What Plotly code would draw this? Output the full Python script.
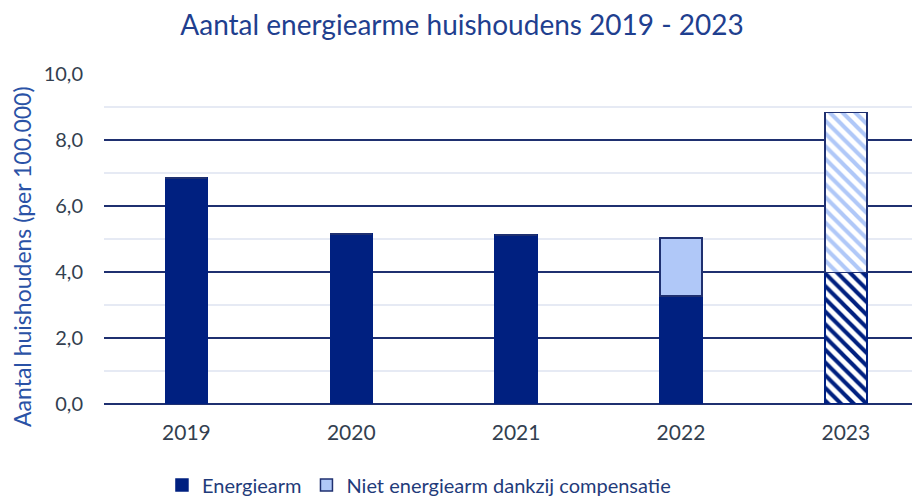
import plotly.graph_objects as go

years = ["2019", "2020", "2021", "2022", "2023"]
energiearm = [6.85, 5.15, 5.12, 3.27, 3.98]
niet_energiearm = [0, 0, 0, 1.76, 4.86]
hatched = [False, False, False, False, True]
y_ticks = [0, 2, 4, 6, 8, 10]

DARK = "#002080"
LIGHT = "#b0c8f8"
LINE = "#1f3070"
BW = 0.255


def pick(values, flag):
    xs = [y for y, h in zip(years, hatched) if h == flag]
    vs = [v for v, h in zip(values, hatched) if h == flag]
    return xs, vs


fig = go.Figure()
x0, v0 = pick(energiearm, False)
fig.add_trace(go.Bar(name="Energiearm", x=x0, y=v0, width=BW, legendgroup="a",
                     marker=dict(color=DARK, line=dict(color=DARK, width=1.5))))
x1, v1 = pick(energiearm, True)
fig.add_trace(go.Bar(name="Energiearm", x=x1, y=v1, width=BW, legendgroup="a", showlegend=False,
                     marker=dict(color=DARK, line=dict(color=DARK, width=1.5),
                                 pattern=dict(shape="\\", fgcolor=DARK, bgcolor="white",
                                              size=9, solidity=0.45, fillmode="replace"))))
x2, v2 = pick(niet_energiearm, False)
fig.add_trace(go.Bar(name="Niet energiearm dankzij compensatie", x=x2, y=v2, width=BW, legendgroup="b",
                     marker=dict(color=LIGHT, line=dict(color=LINE, width=1.5))))
x3, v3 = pick(niet_energiearm, True)
fig.add_trace(go.Bar(name="Niet energiearm dankzij compensatie", x=x3, y=v3, width=BW, legendgroup="b",
                     showlegend=False,
                     marker=dict(color=LIGHT, line=dict(color=LINE, width=1.5),
                                 pattern=dict(shape="\\", fgcolor=LIGHT, bgcolor="white",
                                              size=9, solidity=0.45, fillmode="replace"))))

fig.update_layout(
    barmode="stack",
    width=920, height=497,
    margin=dict(l=96, r=8, t=66, b=101, autoexpand=False),
    paper_bgcolor="white", plot_bgcolor="white",
    separators=",.",
    font=dict(family="Lato", color="#333f50"),
    title=dict(text="Aantal energiearme huishoudens 2019 - 2023",
               x=0.4935, xref="container", xanchor="center",
               y=1 - 17 / 497, yref="container", yanchor="middle",
               font=dict(size=28, color="#1f3f8f", family="Lato")),
    showlegend=True,
    legend=dict(orientation="h", x=0.386, xanchor="center",
                y=1 - 477 / 497, yref="container", yanchor="middle",
                font=dict(size=20, color="#1f3b7a"), traceorder="normal",
                bgcolor="rgba(0,0,0,0)"),
    annotations=[dict(text="Aantal huishoudens (per 100.000)", textangle=-90,
                      xref="paper", yref="paper", x=-0.1005, y=0.4485,
                      xanchor="center", yanchor="middle", showarrow=False,
                      font=dict(size=23, color="#2a52a6", family="Lato"))],
)
fig.update_xaxes(
    range=[-0.5, 4.45], showgrid=False, showline=False, zeroline=False,
    tickfont=dict(size=21, color="#333f50"), ticks="", fixedrange=True,
    ticklabelstandoff=14, automargin=False,
)
fig.update_yaxes(
    range=[0, 10], tickvals=y_ticks, tickformat=".1f",
    showgrid=True, gridcolor=LINE, gridwidth=1.5,
    minor=dict(dtick=1, showgrid=True, gridcolor="#e6eaf4", gridwidth=1.5),
    zeroline=True, zerolinecolor=LINE, zerolinewidth=1.5,
    tickfont=dict(size=20, color="#333f50"), ticks="", ticklabelstandoff=20,
    automargin=False,
)

fig.write_html("out.html")
